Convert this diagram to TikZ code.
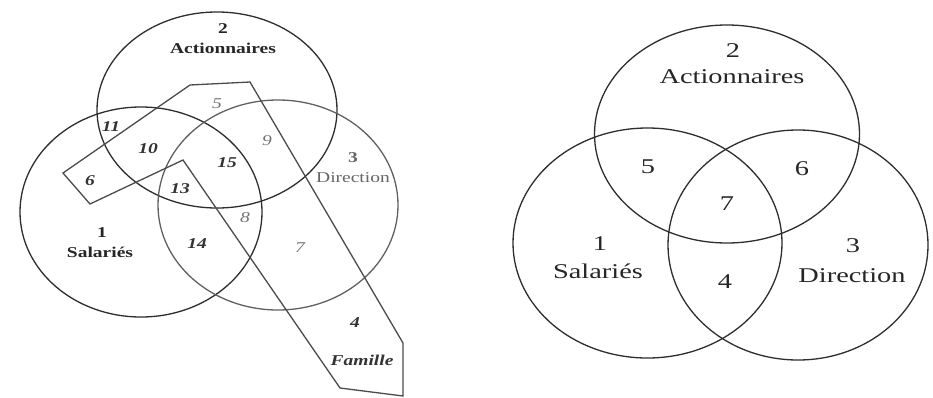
\documentclass[tikz,border=0pt]{standalone}
\usepackage{fontspec}
\setmainfont{Liberation Serif}
\newcommand{\hstrL}[1]{\scalebox{1.3}[1]{#1}}
\newcommand{\hstrR}[1]{\scalebox{1.35}[1]{#1}}
\begin{document}
\begin{tikzpicture}[x=1pt,y=-1pt,
  ringdark/.style={line width=1.3pt, draw=black!82},
  ringgray/.style={line width=1.3pt, draw=black!62},
  famborder/.style={line width=1.3pt, draw=black!70, line join=miter},
  lblL/.style={font=\fontsize{15}{15}\selectfont\bfseries, inner sep=0pt, anchor=base, text=black!85},
  numL/.style={font=\fontsize{15}{15}\selectfont\bfseries\itshape, inner sep=0pt, anchor=base, text=black!80},
  numLgray/.style={font=\fontsize{15}{15}\selectfont\itshape, inner sep=0pt, anchor=base, text=black!55},
  lblR/.style={font=\fontsize{21}{21}\selectfont, inner sep=0pt, anchor=base, text=black!85}]
\useasboundingbox (0,0) rectangle (933,397);
\fill[white] (0,0) rectangle (933,397);

% ---------- left diagram ----------
\draw[ringdark] (217,110) ellipse [x radius=120pt, y radius=98pt];
\draw[ringdark] (141,212) ellipse [x radius=121pt, y radius=105pt];
\draw[ringgray] (278,205) ellipse [x radius=120pt, y radius=105pt];
\draw[famborder] (63,173) -- (190,85) -- (250,82) -- (403,343) -- (403,396)
  -- (340,388) -- (183,160) -- (90,204) -- cycle;

\node[lblL] (l2) at (223,33) {\hstrL{2}};
\node[lblL] (lact) at (223,53) {\hstrL{Actionnaires}};
\node[numLgray] (l5) at (217,108) {\hstrL{5}};
\node[numL] (l11) at (111,131) {\hstrL{11}};
\node[numL] (l10) at (148,153) {\hstrL{10}};
\node[numL] (l6) at (90,185) {\hstrL{6}};
\node[numL] (l13) at (180,193) {\hstrL{13}};
\node[numL] (l15) at (227,167) {\hstrL{15}};
\node[numLgray] (l9) at (267,145) {\hstrL{9}};
\node[lblL, text=black!60] (l3) at (353,162) {\hstrL{3}};
\node[font=\fontsize{15}{15}\selectfont, inner sep=0pt, anchor=base, text=black!60] (ldir) at (353,182) {\hstrL{Direction}};
\node[numLgray] (l8) at (245,222) {\hstrL{8}};
\node[numLgray] (l7) at (300,252) {\hstrL{7}};
\node[lblL] (l1) at (102,237) {\hstrL{1}};
\node[lblL] (lsal) at (100,257) {\hstrL{Salariés}};
\node[numL] (l14) at (197,248) {\hstrL{14}};
\node[numL] (l4) at (355,327) {\hstrL{4}};
\node[numL] (lfam) at (362,365) {\hstrL{Famille}};

% ---------- right diagram ----------
\draw[ringdark] (727,134) ellipse [x radius=132.5pt, y radius=109pt];
\draw[ringdark] (647.5,243) ellipse [x radius=134.5pt, y radius=115pt];
\draw[ringdark] (798,245) ellipse [x radius=130pt, y radius=115pt];

\node[lblR] (r2) at (733,57) {\hstrR{2}};
\node[lblR] (ract) at (732,83) {\hstrR{Actionnaires}};
\node[lblR] (r5) at (648,173) {\hstrR{5}};
\node[lblR] (r6) at (802,175) {\hstrR{6}};
\node[lblR] (r7) at (727,210) {\hstrR{7}};
\node[lblR] (r1) at (600,250) {\hstrR{1}};
\node[lblR] (rsal) at (598,278) {\hstrR{Salariés}};
\node[lblR] (r4) at (725,288) {\hstrR{4}};
\node[lblR] (r3) at (853,252) {\hstrR{3}};
\node[lblR] (rdir) at (852,282) {\hstrR{Direction}};
\end{tikzpicture}
\end{document}
